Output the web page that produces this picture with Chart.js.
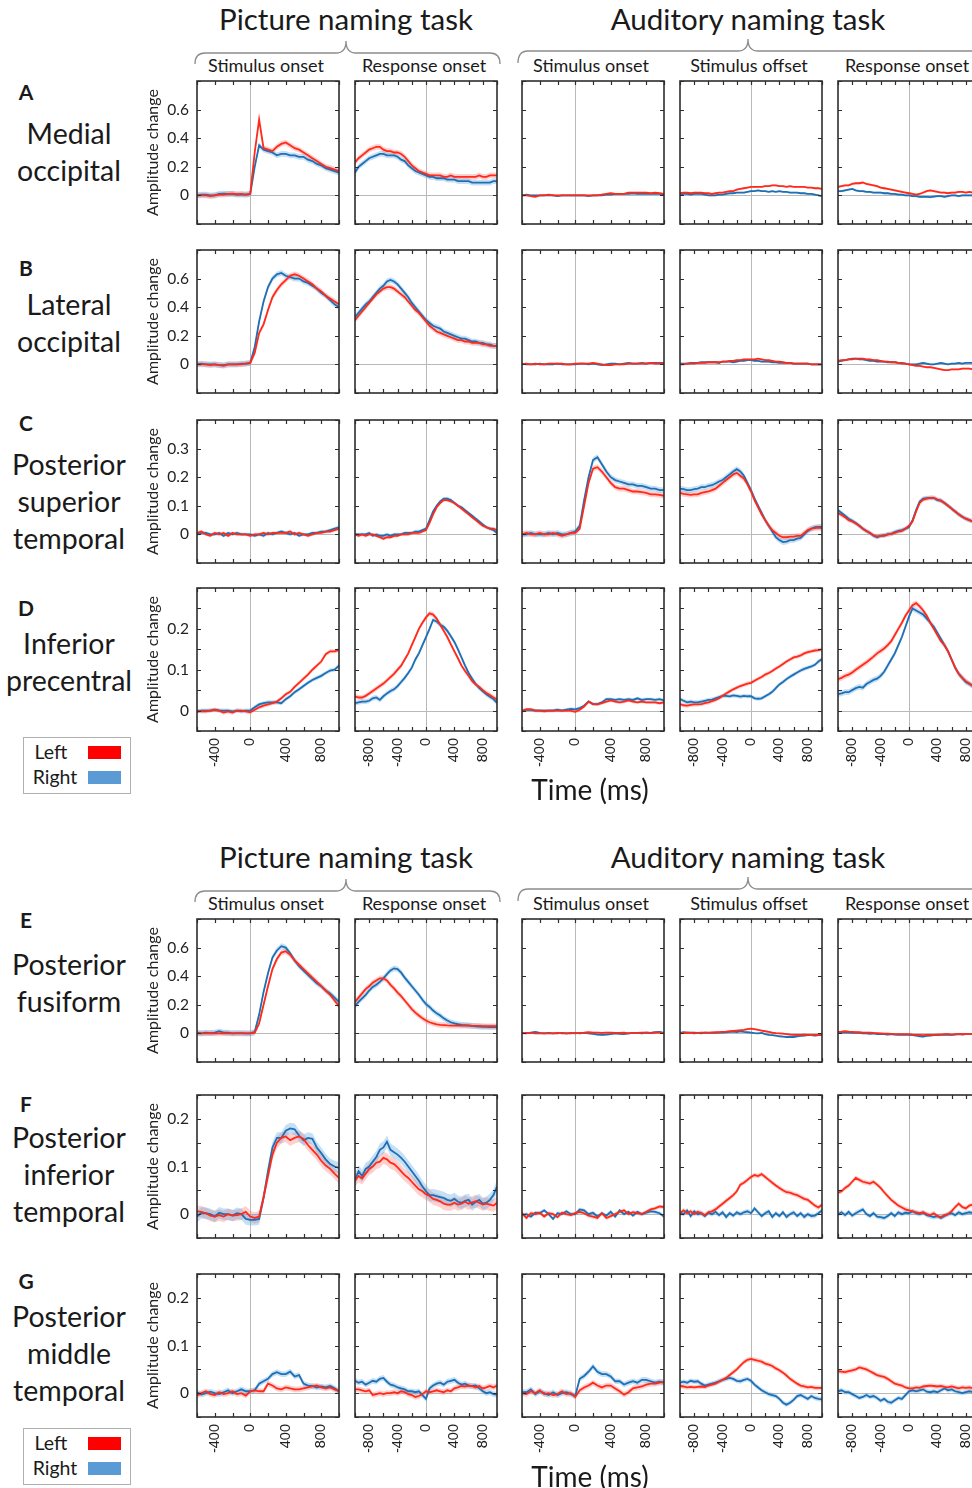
<!DOCTYPE html>
<html>
<head>
<meta charset="utf-8">
<script src="https://cdn.jsdelivr.net/npm/chart.js@4.4.0/dist/chart.umd.min.js"></script>
<style>
    html, body { margin: 0; padding: 0; background: #fff; }
    #fig { position: relative; width: 972px; height: 1488px; overflow: hidden; font-family: Lato, "Open Sans", sans-serif; color: #1a1a1a; }
    #fig canvas { position: absolute; }
    .t { position: absolute; white-space: nowrap; line-height: 1; }
    .leg { position: absolute; border: 1px solid #b0b0b0; background: #fff; }
    .sw { position: absolute; width: 33px; height: 13px; }
</style>
</head>
<body>
<div id="fig">
    <svg id="braces" width="972" height="1488" style="position:absolute;left:0;top:0"></svg>
</div>
<script>
/* ========================================
   Picture / auditory naming - amplitude change panels
   ======================================== */

// Time grids (ms)
const T_ON = [-600,-550,-500,-450,-400,-350,-300,-250,-200,-150,-100,-50,0,50,100,150,200,250,300,350,400,450,500,550,600,650,700,750,800,850,900,950,1000];
const T_SYM = [-1000,-950,-900,-850,-800,-750,-700,-650,-600,-550,-500,-450,-400,-350,-300,-250,-200,-150,-100,-50,0,50,100,150,200,250,300,350,400,450,500,550,600,650,700,750,800,850,900,950,1000];

const rowLetters = ['A', 'B', 'C', 'D', 'E', 'F', 'G'];
const regionNames = [
    ['Medial', 'occipital'],
    ['Lateral', 'occipital'],
    ['Posterior', 'superior', 'temporal'],
    ['Inferior', 'precentral'],
    ['Posterior', 'fusiform'],
    ['Posterior', 'inferior', 'temporal'],
    ['Posterior', 'middle', 'temporal']
];
const taskNames = ['Picture naming task', 'Auditory naming task'];
const colTitles = ['Stimulus onset', 'Response onset', 'Stimulus onset', 'Stimulus offset', 'Response onset'];
const colWindow = ['on', 'sym', 'on', 'sym', 'sym'];

// y ranges per row
const yMin = [-0.2, -0.2, -0.1, -0.05, -0.2, -0.05, -0.05];
const yMax = [0.8, 0.8, 0.4, 0.3, 0.8, 0.25, 0.25];
const yStep = [0.2, 0.2, 0.1, 0.05, 0.2, 0.05, 0.05];
const yLabelVals = [
    [0, 0.2, 0.4, 0.6], [0, 0.2, 0.4, 0.6], [0, 0.1, 0.2, 0.3], [0, 0.1, 0.2],
    [0, 0.2, 0.4, 0.6], [0, 0.1, 0.2], [0, 0.1, 0.2]
];

// half width of the shaded error band, per panel
const bandHalf = [
    [0.02, 0.02, 0.006, 0.006, 0.008],
    [0.02, 0.02, 0.006, 0.006, 0.006],
    [0.006, 0.006, 0.01, 0.01, 0.008],
    [0.005, 0.006, 0.004, 0.005, 0.007],
    [0.02, 0.02, 0.006, 0.006, 0.006],
    [0.012, 0.013, 0.004, 0.005, 0.005],
    [0.006, 0.006, 0.006, 0.005, 0.005]
];

// ---- data: _L = left hemisphere (red), _R = right hemisphere (blue)
const A1_L = [0,0,0,-0.005,0,0.005,0.005,0.01,0.012,0.008,0.01,0.005,0.01, 0.3,0.53,0.33,0.32,0.31,0.34,0.36,0.37,0.35,0.33,0.32,0.3,0.28,0.26,0.24,0.22,0.2,0.19,0.18,0.17];
const A1_R = [0,0.005,0.005,0,0,0.01,0.012,0.01,0.01,0.005,0.005,0.005,0.01, 0.2,0.35,0.32,0.31,0.3,0.28,0.29,0.29,0.28,0.28,0.27,0.27,0.25,0.24,0.22,0.21,0.19,0.18,0.17,0.16];
const A2_L = [0.23,0.26,0.28,0.3,0.32,0.33,0.34,0.34,0.32,0.31,0.31,0.3,0.3,0.29,0.27,0.24,0.21,0.19,0.17,0.16,0.15, 0.14,0.14,0.14,0.14,0.13,0.13,0.14,0.13,0.13,0.13,0.13,0.13,0.13,0.13,0.14,0.13,0.13,0.14,0.14,0.14];
const A2_R = [0.16,0.2,0.22,0.24,0.26,0.27,0.28,0.29,0.29,0.28,0.28,0.28,0.27,0.25,0.24,0.21,0.19,0.17,0.16,0.15,0.14, 0.13,0.13,0.12,0.12,0.12,0.11,0.11,0.11,0.1,0.1,0.1,0.1,0.09,0.09,0.09,0.09,0.09,0.09,0.1,0.1];
const A3_L = [0,0,-0.005,-0.01,0,0,0.005,0,0,0,0,0,0, 0,0,0,0,0,0.005,0.01,0.015,0.01,0.01,0.01,0.02,0.02,0.02,0.02,0.02,0.015,0.02,0.015,0.01];
const A3_R = [0,0.005,0,0,0,0,0,0,-0.005,0,0,0,0, 0,0,-0.005,0,0,0,0.005,0.005,0.01,0.01,0.01,0.01,0.015,0.01,0.01,0.01,0.01,0.01,0.01,0.005];
const A4_L = [0.015,0.02,0.02,0.015,0.02,0.02,0.02,0.015,0.015,0.01,0.015,0.02,0.02,0.025,0.03,0.03,0.04,0.045,0.05,0.055,0.06, 0.06,0.06,0.06,0.065,0.065,0.07,0.07,0.065,0.065,0.06,0.065,0.06,0.06,0.06,0.06,0.055,0.055,0.05,0.05,0.045];
const A4_R = [0.005,0.01,0.01,0.005,0.01,0.01,0.01,0.005,0,0,0,0.005,0.005,0.01,0.015,0.015,0.02,0.02,0.02,0.025,0.03, 0.03,0.035,0.03,0.03,0.025,0.03,0.025,0.03,0.025,0.025,0.02,0.02,0.02,0.015,0.015,0.01,0.01,0.005,0,-0.005];
const A5_L = [0.06,0.065,0.07,0.07,0.08,0.085,0.085,0.09,0.08,0.075,0.07,0.065,0.055,0.05,0.045,0.04,0.035,0.03,0.025,0.02,0.015, 0.01,0.005,0.01,0.02,0.03,0.035,0.03,0.025,0.02,0.02,0.015,0.02,0.02,0.025,0.025,0.02,0.025,0.02,0.02,0.02];
const A5_R = [0.03,0.03,0.035,0.04,0.045,0.035,0.03,0.03,0.025,0.025,0.02,0.02,0.02,0.015,0.015,0.01,0.01,0.005,0.005,0,0, -0.005,-0.005,-0.01,-0.01,-0.01,-0.012,-0.008,-0.005,-0.005,-0.01,-0.005,0,0,-0.005,0,0,0,0,0,0];

const B1_L = [0,0,0,-0.005,0,-0.005,-0.01,0,0,0,0,0.005,0.01, 0.08,0.22,0.28,0.38,0.47,0.52,0.56,0.59,0.62,0.63,0.62,0.6,0.58,0.56,0.53,0.51,0.48,0.46,0.44,0.42];
const B1_R = [0,0.005,0,0,0,-0.005,-0.005,0,0,0,0.005,0.005,0.01, 0.12,0.3,0.44,0.54,0.6,0.63,0.64,0.62,0.61,0.6,0.6,0.58,0.57,0.55,0.53,0.5,0.48,0.45,0.42,0.4];
const B2_L = [0.31,0.34,0.37,0.4,0.43,0.46,0.49,0.51,0.53,0.54,0.54,0.53,0.51,0.49,0.47,0.44,0.41,0.38,0.36,0.33,0.3, 0.27,0.25,0.23,0.22,0.21,0.2,0.19,0.18,0.17,0.17,0.16,0.16,0.15,0.15,0.15,0.14,0.14,0.13,0.13,0.13];
const B2_R = [0.33,0.36,0.39,0.42,0.44,0.47,0.5,0.53,0.55,0.58,0.59,0.58,0.56,0.53,0.5,0.47,0.43,0.4,0.37,0.34,0.31, 0.29,0.27,0.26,0.25,0.23,0.22,0.21,0.2,0.19,0.18,0.18,0.17,0.16,0.16,0.15,0.15,0.14,0.14,0.13,0.13];
const B3_L = [0,0.005,0,0.005,0,0,0.005,0.005,0.005,0.005,0,0,0.005, 0.005,0.005,0.005,0.01,0.005,0,-0.005,-0.005,0,0,0,0.005,0.005,0.005,0.005,0.005,0.01,0.005,0.005,0.01];
const B3_R = [0.005,0,0,0,0.005,0,0,0,0.005,0,0,0,0, 0.005,0.005,0,0.005,0,-0.005,0,0.005,0.005,0,0.005,0.01,0.005,0.005,0.01,0.005,0.01,0.01,0.01,0.01];
const B4_L = [0,0,0.005,0.005,0.005,0.01,0.01,0.01,0.015,0.015,0.015,0.015,0.02,0.02,0.025,0.025,0.03,0.03,0.035,0.035,0.035, 0.035,0.04,0.035,0.03,0.03,0.025,0.02,0.02,0.015,0.01,0.01,0.005,0.005,0.005,0.005,0.005,0,0,0,0];
const B4_R = [0.005,0.005,0.005,0.01,0.01,0.01,0.015,0.015,0.015,0.015,0.015,0.01,0.02,0.02,0.02,0.015,0.02,0.025,0.025,0.03,0.03, 0.025,0.025,0.02,0.02,0.02,0.015,0.015,0.01,0.01,0.01,0.01,0.005,0.005,0.005,0.005,0.005,0,0,0,0];
const B5_L = [0.025,0.03,0.03,0.035,0.035,0.04,0.04,0.04,0.035,0.035,0.03,0.03,0.025,0.02,0.02,0.015,0.015,0.01,0.005,0.005,0, -0.005,-0.01,-0.01,-0.015,-0.02,-0.02,-0.025,-0.03,-0.035,-0.04,-0.04,-0.035,-0.035,-0.035,-0.03,-0.03,-0.03,-0.035,-0.03,-0.03];
const B5_R = [0.02,0.025,0.03,0.035,0.04,0.04,0.035,0.035,0.03,0.025,0.025,0.02,0.02,0.02,0.015,0.015,0.015,0.01,0.01,0.005,0, 0,0,0.005,0.01,0.005,0,0,0.005,0.01,0.005,0,0.005,0.005,0.01,0.005,0.01,0.01,0.01,0.005,0.005];

const C1_L = [0.005,0.01,0,-0.005,0.005,0,0.005,-0.005,0.005,0,0,0,-0.005, 0,0,0.005,0,0.005,0.005,0.005,0.005,0.01,0,0.005,0,-0.005,0,0.005,0.005,0.01,0.01,0.015,0.02];
const C1_R = [0,0.005,0.005,0,0,0.005,-0.005,0.005,0,0.005,0,0,0, -0.005,0,-0.005,0.005,0,0.005,0.01,0.005,0,0.005,-0.005,0,0,0.005,0.005,0.01,0.01,0.015,0.02,0.025];
const C2_L = [0,-0.005,0,-0.005,0,0,-0.005,-0.01,-0.015,-0.01,-0.01,-0.005,-0.005,0,0,0,0.005,0.005,0.005,0.01,0.015, 0.04,0.07,0.095,0.11,0.12,0.12,0.115,0.11,0.1,0.09,0.08,0.07,0.06,0.05,0.04,0.03,0.025,0.02,0.02,0.015];
const C2_R = [0,0,0,0,0.005,-0.005,0,-0.005,-0.005,0,-0.005,0,0,0,0.005,0.005,0.005,0.01,0.01,0.015,0.02, 0.05,0.08,0.1,0.115,0.125,0.125,0.12,0.11,0.1,0.095,0.085,0.075,0.065,0.055,0.045,0.035,0.025,0.02,0.015,0.005];
const C3_L = [0,0.005,0,0,0.005,0,0,0.005,0,-0.005,0,0.005,0.005, 0.02,0.1,0.18,0.23,0.235,0.22,0.2,0.18,0.165,0.16,0.16,0.155,0.15,0.15,0.148,0.145,0.14,0.14,0.138,0.135];
const C3_R = [0,0,0.005,0,0,0,0.005,0,0.005,0,0,0.005,0.01, 0.03,0.12,0.2,0.26,0.27,0.245,0.22,0.2,0.19,0.185,0.18,0.175,0.175,0.17,0.17,0.165,0.16,0.16,0.155,0.155];
const C4_L = [0.145,0.142,0.14,0.138,0.14,0.14,0.145,0.148,0.15,0.155,0.16,0.17,0.18,0.19,0.2,0.21,0.215,0.205,0.195,0.175,0.15, 0.12,0.095,0.07,0.05,0.03,0.015,0.005,-0.005,-0.01,-0.01,-0.008,-0.008,-0.005,-0.005,0.005,0.015,0.02,0.022,0.024,0.022];
const C4_R = [0.16,0.158,0.155,0.155,0.158,0.16,0.165,0.165,0.17,0.172,0.178,0.185,0.19,0.2,0.21,0.22,0.228,0.22,0.205,0.18,0.155, 0.125,0.1,0.075,0.05,0.03,0.01,-0.01,-0.02,-0.027,-0.025,-0.02,-0.02,-0.015,-0.012,0,0.012,0.02,0.025,0.026,0.026];
const C5_L = [0.075,0.068,0.06,0.05,0.045,0.038,0.03,0.02,0.012,0.005,-0.003,-0.007,-0.005,-0.005,0,0.002,0.005,0.01,0.012,0.02,0.03, 0.045,0.08,0.11,0.122,0.125,0.128,0.128,0.122,0.118,0.11,0.1,0.09,0.08,0.07,0.062,0.055,0.05,0.045,0.04,0.035];
const C5_R = [0.085,0.075,0.065,0.055,0.048,0.04,0.03,0.02,0.012,0.005,-0.005,-0.01,-0.005,-0.003,0,0.002,0.008,0.012,0.015,0.02,0.025, 0.05,0.085,0.115,0.125,0.127,0.127,0.127,0.12,0.118,0.11,0.1,0.09,0.08,0.07,0.062,0.055,0.05,0.045,0.04,0.035];

const D1_L = [0,-0.002,-0.002,0,0.002,0,-0.005,-0.002,-0.005,0,0,-0.002,-0.004, 0.002,0.008,0.012,0.015,0.018,0.022,0.03,0.04,0.046,0.058,0.068,0.078,0.088,0.1,0.11,0.12,0.138,0.145,0.145,0.148];
const D1_R = [-0.003,0,0,0,0.002,0,0,0,-0.002,0,-0.002,0,0, 0.008,0.015,0.018,0.02,0.02,0.02,0.018,0.028,0.035,0.045,0.052,0.06,0.068,0.075,0.08,0.085,0.092,0.098,0.1,0.11];
const D2_L = [0.035,0.032,0.032,0.036,0.042,0.048,0.054,0.06,0.066,0.074,0.082,0.09,0.1,0.11,0.125,0.14,0.16,0.18,0.2,0.215,0.228, 0.238,0.235,0.225,0.21,0.195,0.18,0.162,0.145,0.128,0.11,0.097,0.085,0.072,0.064,0.058,0.05,0.043,0.038,0.032,0.027];
const D2_R = [0.018,0.02,0.022,0.022,0.024,0.03,0.032,0.026,0.035,0.042,0.048,0.052,0.06,0.07,0.08,0.092,0.105,0.125,0.14,0.16,0.18, 0.2,0.222,0.218,0.21,0.205,0.195,0.182,0.168,0.15,0.13,0.11,0.092,0.078,0.065,0.055,0.047,0.04,0.034,0.028,0.019];
const D3_L = [0,0.003,0.003,0,0,-0.002,0,0,0,0,0,0,-0.003, 0.002,0.01,0.022,0.016,0.015,0.018,0.022,0.025,0.022,0.02,0.022,0.025,0.022,0.02,0.022,0.02,0.02,0.02,0.018,0.02];
const D3_R = [-0.002,0.002,0.002,0,0,0,0,0,0.002,0,0.002,0.004,0.003, 0.006,0.012,0.022,0.016,0.016,0.02,0.028,0.028,0.026,0.028,0.026,0.028,0.026,0.03,0.026,0.028,0.028,0.026,0.028,0.025];
const D4_L = [0.016,0.013,0.012,0.014,0.015,0.015,0.016,0.018,0.02,0.023,0.026,0.03,0.036,0.042,0.047,0.052,0.056,0.06,0.063,0.066,0.068, 0.073,0.078,0.082,0.088,0.092,0.097,0.103,0.108,0.114,0.12,0.125,0.13,0.132,0.135,0.14,0.143,0.145,0.147,0.148,0.15];
const D4_R = [0.028,0.024,0.02,0.022,0.02,0.02,0.022,0.024,0.026,0.027,0.03,0.033,0.036,0.036,0.035,0.037,0.036,0.034,0.036,0.035,0.035, 0.03,0.029,0.03,0.035,0.04,0.046,0.055,0.064,0.07,0.077,0.083,0.088,0.093,0.098,0.102,0.105,0.108,0.112,0.12,0.126];
const D5_L = [0.077,0.08,0.085,0.088,0.093,0.1,0.106,0.112,0.118,0.125,0.132,0.14,0.146,0.152,0.16,0.17,0.185,0.2,0.215,0.232,0.245, 0.258,0.263,0.255,0.245,0.232,0.215,0.2,0.185,0.17,0.16,0.145,0.125,0.105,0.09,0.08,0.072,0.066,0.06,0.055,0.05];
const D5_R = [0.04,0.042,0.045,0.045,0.05,0.055,0.058,0.056,0.065,0.07,0.075,0.078,0.085,0.095,0.11,0.125,0.14,0.16,0.18,0.205,0.23, 0.25,0.245,0.24,0.235,0.225,0.215,0.205,0.19,0.175,0.16,0.145,0.125,0.105,0.09,0.08,0.07,0.065,0.06,0.055,0.05];

const E1_L = [0,0,0,0.002,0,0,0.002,0,0,0,0,0,0, 0.005,0.07,0.2,0.33,0.45,0.52,0.565,0.575,0.55,0.51,0.48,0.45,0.42,0.39,0.36,0.33,0.3,0.27,0.23,0.19];
const E1_R = [0.005,0,0.005,0.002,0.005,0.015,0.005,0.005,0,0.002,0.002,0,0, 0.01,0.13,0.29,0.42,0.53,0.58,0.61,0.6,0.56,0.51,0.47,0.44,0.41,0.38,0.35,0.33,0.3,0.28,0.25,0.22];
const E2_L = [0.22,0.25,0.28,0.31,0.33,0.355,0.37,0.385,0.385,0.37,0.34,0.315,0.285,0.26,0.23,0.2,0.17,0.145,0.125,0.105,0.09, 0.078,0.07,0.063,0.06,0.058,0.056,0.055,0.054,0.054,0.054,0.055,0.054,0.053,0.052,0.052,0.051,0.05,0.05,0.05,0.05];
const E2_R = [0.19,0.22,0.245,0.27,0.3,0.325,0.34,0.36,0.385,0.415,0.44,0.455,0.45,0.425,0.39,0.36,0.33,0.3,0.27,0.235,0.205, 0.185,0.16,0.14,0.125,0.105,0.09,0.078,0.07,0.064,0.06,0.058,0.056,0.052,0.05,0.048,0.046,0.045,0.044,0.044,0.044];
const E3_L = [0,0.003,0.003,0,0,0,0,0,0.003,0,0,0.003,0, 0.003,0.005,0.008,0.005,0.005,0.003,0.005,0.005,0.003,0.003,0.005,0,0.003,0.003,0.005,0.005,0.003,0.005,0.005,0];
const E3_R = [0.003,0,0.005,0.01,0.003,0,0.003,0,0,0.003,0,0,0.003, 0,0.003,0,-0.003,-0.008,-0.01,-0.008,-0.005,0,-0.003,-0.005,0,0.003,0.003,0,0.005,0.003,0.008,0.01,0.003];
const E4_L = [0,0.003,0.005,0.003,0,0.003,0.005,0.005,0.005,0.005,0.008,0.008,0.01,0.012,0.015,0.018,0.02,0.022,0.025,0.03,0.033, 0.03,0.025,0.02,0.015,0.01,0.005,0.002,0,-0.002,-0.005,-0.008,-0.01,-0.01,-0.01,-0.008,-0.01,-0.012,-0.01,-0.01,-0.01];
const E4_R = [0.003,0.008,0.005,0.005,0.005,0.003,0,0.005,0.003,0.005,0.003,0.005,0.005,0.008,0.01,0.012,0.01,0.015,0.01,0.008,0.005, 0.002,0,0.003,-0.005,-0.01,-0.012,-0.015,-0.02,-0.022,-0.025,-0.025,-0.025,-0.02,-0.018,-0.015,-0.012,-0.012,-0.015,-0.012,-0.012];
const E5_L = [0.01,0.012,0.015,0.012,0.01,0.008,0.008,0.006,0.005,0.005,0.003,0.002,0,-0.002,-0.002,-0.003,-0.005,-0.005,-0.005,-0.005,-0.005, -0.008,-0.01,-0.01,-0.012,-0.01,-0.01,-0.01,-0.008,-0.008,-0.005,-0.005,-0.008,-0.005,-0.005,-0.003,-0.005,-0.005,-0.003,-0.005,-0.005];
const E5_R = [0.003,0.005,0.008,0.005,0.003,0.005,0.003,0,0,-0.003,0,-0.005,-0.003,-0.005,-0.008,-0.005,-0.008,-0.01,-0.01,-0.01,-0.01, -0.012,-0.015,-0.02,-0.022,-0.018,-0.015,-0.012,-0.012,-0.01,-0.01,-0.008,-0.01,-0.008,-0.005,-0.008,-0.005,-0.005,-0.005,-0.008,-0.005];

const F1_L = [0.006,0.005,0.002,-0.003,-0.005,-0.002,-0.005,0,-0.003,-0.002,0,0.005,-0.005, -0.008,-0.005,0.035,0.08,0.125,0.15,0.16,0.163,0.155,0.16,0.163,0.158,0.145,0.135,0.125,0.112,0.102,0.095,0.085,0.076];
const F1_R = [-0.005,0.003,0.002,0,-0.005,0.003,0,0,-0.003,0.002,0,-0.01,-0.012, -0.012,-0.01,0.035,0.09,0.14,0.16,0.16,0.175,0.18,0.178,0.165,0.155,0.16,0.158,0.14,0.128,0.115,0.105,0.1,0.097];
const F2_L = [0.07,0.08,0.075,0.085,0.095,0.1,0.108,0.11,0.118,0.115,0.108,0.105,0.098,0.09,0.082,0.076,0.068,0.06,0.052,0.048,0.042, 0.038,0.032,0.03,0.027,0.022,0.02,0.02,0.024,0.02,0.022,0.026,0.022,0.025,0.027,0.024,0.02,0.022,0.02,0.018,0.024];
const F2_R = [0.072,0.09,0.08,0.095,0.1,0.11,0.12,0.135,0.14,0.152,0.135,0.13,0.125,0.118,0.11,0.1,0.09,0.08,0.07,0.058,0.048, 0.04,0.04,0.038,0.036,0.034,0.03,0.028,0.032,0.026,0.024,0.028,0.03,0.02,0.026,0.03,0.022,0.024,0.03,0.04,0.058];
const F3_L = [0.002,-0.008,0.002,0,0.003,-0.005,0.002,0,-0.006,0.003,0,-0.002,0.002, 0.005,0.002,-0.003,-0.005,-0.008,0.002,-0.008,-0.004,0,0.005,0.008,0,0.004,0.002,0,0.005,0.01,0.012,0.016,0.015];
const F3_R = [-0.002,0,-0.005,0.003,0.002,0.008,0,-0.01,0.002,0,0.006,0,0, 0.01,0.008,0,0.003,-0.005,0.002,-0.003,0.005,-0.005,0.008,0,0.005,-0.003,0.005,0,0.003,0.006,0.005,0.002,-0.005];
const F4_L = [0.002,0.008,0.002,0.006,0,0.005,0.002,-0.002,0.004,0.006,0.01,0.016,0.022,0.028,0.034,0.04,0.048,0.062,0.066,0.072,0.078, 0.082,0.08,0.084,0.078,0.072,0.066,0.06,0.055,0.05,0.046,0.045,0.042,0.04,0.036,0.032,0.03,0.024,0.018,0.014,0.02];
const F4_R = [0.003,0,0.008,-0.004,0.006,0,0.002,-0.004,0.003,0,0.005,-0.002,0.004,-0.006,0.002,-0.003,0.004,0,0.004,0.006,0.002, 0.012,0.004,-0.004,0.002,0.006,-0.006,0.002,-0.004,0.004,-0.006,0,0.004,-0.004,0.002,-0.006,0,-0.004,-0.003,0.002,0.008];
const F5_L = [0.045,0.048,0.055,0.06,0.068,0.076,0.072,0.068,0.066,0.064,0.068,0.062,0.055,0.046,0.038,0.03,0.024,0.018,0.014,0.01,0.008, 0.006,0.004,0.002,0.004,0,-0.002,0.002,-0.004,-0.006,-0.002,0,0.006,0.015,0.022,0.015,0.012,0.018,0.02,0.016,0.018];
const F5_R = [0,0.004,-0.002,0.005,-0.003,0.002,0.006,0.01,0,-0.004,0.002,-0.005,-0.006,-0.008,-0.004,0.002,-0.004,0.004,0,0.003,0.002, 0.006,0.002,0,0.003,-0.002,-0.004,-0.006,-0.004,-0.008,-0.004,0,0.002,-0.002,0.004,0,0.002,0.004,0.002,0,0.002];

const G1_L = [-0.005,0,0.004,-0.002,-0.004,0.002,-0.002,0,0.004,-0.002,0,-0.005,0.004, 0.006,0.004,0.004,0.02,0.016,0.01,0.008,0.012,0.01,0.008,0.008,0.01,0.012,0.014,0.016,0.012,0.01,0.012,0.008,0.004];
const G1_R = [0.002,-0.003,0,0.003,0,-0.002,0.002,0.006,0,0.004,0.008,0.004,0.004, 0.006,0.02,0.025,0.03,0.04,0.044,0.04,0.04,0.045,0.035,0.038,0.02,0.016,0.015,0.012,0.014,0.012,0.015,0.01,0.004];
const G2_L = [0.008,0.008,0.006,0.004,0.006,-0.004,-0.002,0,-0.002,0,0,0.002,0,0.004,0.002,-0.002,-0.004,-0.008,-0.006,-0.002,0.004, 0.002,0.004,0.006,0.004,0.002,0.006,0.004,0.01,0.012,0.015,0.014,0.016,0.015,0.012,0.015,0.01,0.012,0.015,0.012,0.016];
const G2_R = [0.026,0.022,0.024,0.018,0.022,0.026,0.024,0.03,0.032,0.024,0.018,0.016,0.012,0.01,0.008,0.004,0.004,0.002,0.004,-0.004,-0.012, 0.01,0.016,0.02,0.022,0.018,0.024,0.026,0.028,0.022,0.018,0.02,0.016,0.015,0.016,0.01,0.004,0,0.002,-0.002,-0.003];
const G3_L = [0,-0.002,0.004,0,0.006,-0.002,0,-0.004,-0.002,0.004,-0.002,0,-0.008, 0.006,0.012,0.016,0.022,0.016,0.012,0.016,0.016,0.01,0.004,-0.003,0.002,0.01,0.012,0.014,0.018,0.02,0.02,0.022,0.023];
const G3_R = [0.002,0.002,0.008,-0.002,0.004,0,-0.004,0.002,-0.004,0,0.002,-0.002,-0.006, 0.03,0.036,0.045,0.056,0.045,0.04,0.04,0.035,0.025,0.025,0.018,0.022,0.025,0.022,0.028,0.028,0.025,0.022,0.024,0.022];
const G4_L = [0.015,0.014,0.012,0.013,0.012,0.013,0.014,0.013,0.016,0.018,0.02,0.024,0.028,0.032,0.038,0.044,0.05,0.058,0.065,0.07,0.072, 0.07,0.068,0.066,0.062,0.06,0.057,0.052,0.048,0.043,0.037,0.03,0.025,0.02,0.016,0.014,0.012,0.013,0.011,0.011,0.011];
const G4_R = [0.022,0.024,0.022,0.026,0.024,0.025,0.02,0.016,0.018,0.02,0.022,0.025,0.028,0.03,0.032,0.03,0.026,0.025,0.028,0.03,0.026, 0.018,0.012,0.006,0.002,-0.002,-0.004,-0.006,-0.012,-0.02,-0.024,-0.02,-0.014,-0.006,-0.004,-0.008,-0.012,-0.006,-0.01,-0.012,-0.013];
const G5_L = [0.046,0.045,0.044,0.046,0.048,0.05,0.054,0.052,0.05,0.046,0.042,0.038,0.036,0.034,0.03,0.025,0.02,0.018,0.016,0.012,0.01, 0.01,0.012,0.011,0.014,0.015,0.016,0.015,0.014,0.015,0.013,0.012,0.014,0.012,0.01,0.012,0.011,0.012,0.01,0.012,0.011];
const G5_R = [0.004,0.006,0.002,0.002,-0.002,-0.006,-0.01,-0.008,-0.004,-0.008,-0.006,-0.01,-0.016,-0.012,-0.018,-0.02,-0.015,-0.01,-0.012,-0.004,0.004, 0.006,0.004,0.006,0.008,0.003,0.002,0.004,0.002,0.006,0.01,0.006,0.008,0.004,0.002,0,0.002,0.004,0.002,0,0.002];

const LEFT = [
    [A1_L, A2_L, A3_L, A4_L, A5_L], [B1_L, B2_L, B3_L, B4_L, B5_L], [C1_L, C2_L, C3_L, C4_L, C5_L],
    [D1_L, D2_L, D3_L, D4_L, D5_L], [E1_L, E2_L, E3_L, E4_L, E5_L], [F1_L, F2_L, F3_L, F4_L, F5_L],
    [G1_L, G2_L, G3_L, G4_L, G5_L]
];
const RIGHT = [
    [A1_R, A2_R, A3_R, A4_R, A5_R], [B1_R, B2_R, B3_R, B4_R, B5_R], [C1_R, C2_R, C3_R, C4_R, C5_R],
    [D1_R, D2_R, D3_R, D4_R, D5_R], [E1_R, E2_R, E3_R, E4_R, E5_R], [F1_R, F2_R, F3_R, F4_R, F5_R],
    [G1_R, G2_R, G3_R, G4_R, G5_R]
];

// ---- layout
const FONT = 'Lato, "Open Sans", sans-serif';
const TICK_FONT = '"Liberation Sans", Arial, sans-serif';
const RED = '#ff2a1a', BLUE = '#1f6fb4';
const RED_BAND = 'rgba(255, 110, 100, 0.32)', BLUE_BAND = 'rgba(90, 165, 225, 0.35)';
const RED_SWATCH = '#ff0000', BLUE_SWATCH = '#5b9bd5';
const COL_X = [197, 355, 522, 680, 838];
const ROW_Y = [81, 250, 420, 588, 919, 1095, 1274];
const PW = 142, PH = 143;
const PAD_L = 60, PAD_T = 10, PAD_R = 10, PAD_B = 52;
const fig = document.getElementById('fig');

function addText(str, cx, baseline, size, extra) {
    const el = document.createElement('div');
    el.className = 't';
    el.textContent = str;
    el.style.fontSize = size + 'px';
    el.style.top = (baseline - 0.887 * size) + 'px';
    el.style.left = cx + 'px';
    el.style.transform = 'translateX(-50%)';
    if (extra) Object.assign(el.style, extra);
    fig.appendChild(el);
    return el;
}

// frame, inward ticks and zero lines
const framePlugin = {
    id: 'frame',
    beforeDatasetsDraw(chart) {
        const { ctx, chartArea: a, scales: { x, y } } = chart;
        ctx.save();
        ctx.strokeStyle = '#b9b9b9';
        ctx.lineWidth = 1;
        const y0 = Math.round(y.getPixelForValue(0)) + 0.5;
        const x0 = Math.round(x.getPixelForValue(0)) + 0.5;
        ctx.beginPath();
        ctx.moveTo(a.left, y0); ctx.lineTo(a.right, y0);
        ctx.moveTo(x0, a.top); ctx.lineTo(x0, a.bottom);
        ctx.stroke();
        ctx.restore();
    },
    afterDatasetsDraw(chart) {
        const { ctx, chartArea: a, scales: { x, y } } = chart;
        ctx.save();
        ctx.strokeStyle = '#2e2e2e';
        ctx.lineWidth = 1.2;
        ctx.beginPath();
        x.ticks.forEach(t => {
            const px = Math.round(x.getPixelForValue(t.value)) + 0.5;
            ctx.moveTo(px, a.top); ctx.lineTo(px, a.top + 4);
            ctx.moveTo(px, a.bottom); ctx.lineTo(px, a.bottom - 4);
        });
        y.ticks.forEach(t => {
            const py = Math.round(y.getPixelForValue(t.value)) + 0.5;
            ctx.moveTo(a.left, py); ctx.lineTo(a.left + 4, py);
            ctx.moveTo(a.right, py); ctx.lineTo(a.right - 4, py);
        });
        ctx.stroke();
        ctx.lineWidth = 1.6;
        ctx.strokeRect(a.left, a.top, a.right - a.left, a.bottom - a.top);
        ctx.restore();
    }
};

function pts(times, vals, shift) {
    return vals.map((v, i) => ({ x: times[i], y: v + shift }));
}

function makePanel(r, c) {
    const T = colWindow[c] === 'on' ? T_ON : T_SYM;
    const L = LEFT[r][c], R = RIGHT[r][c], h = bandHalf[r][c];
    const showY = c === 0;
    const showX = r === 3 || r === 6;

    const cv = document.createElement('canvas');
    cv.width = PW + PAD_L + PAD_R;
    cv.height = PH + PAD_T + PAD_B;
    cv.style.left = (COL_X[c] - PAD_L) + 'px';
    cv.style.top = (ROW_Y[r] - PAD_T) + 'px';
    fig.appendChild(cv);

    const lineBase = { pointRadius: 0, tension: 0, fill: false };
    new Chart(cv, {
        type: 'line',
        data: {
            datasets: [
                { ...lineBase, data: pts(T, L, h), borderWidth: 0, backgroundColor: RED_BAND, fill: '+1', order: 4 },
                { ...lineBase, data: pts(T, L, -h), borderWidth: 0, order: 4 },
                { ...lineBase, data: pts(T, R, h), borderWidth: 0, backgroundColor: BLUE_BAND, fill: '+1', order: 3 },
                { ...lineBase, data: pts(T, R, -h), borderWidth: 0, order: 3 },
                { ...lineBase, data: pts(T, R, 0), borderColor: BLUE, borderWidth: 1.8, order: 2 },
                { ...lineBase, data: pts(T, L, 0), borderColor: RED, borderWidth: 1.8, order: 1 }
            ]
        },
        options: {
            responsive: false,
            animation: false,
            devicePixelRatio: 1,
            layout: { padding: { left: 0, top: PAD_T, right: PAD_R, bottom: 0 } },
            plugins: { legend: { display: false }, tooltip: { enabled: false } },
            scales: {
                x: {
                    type: 'linear',
                    min: T[0], max: T[T.length - 1],
                    afterFit: s => { s.height = PAD_B; s.paddingLeft = 0; s.paddingRight = 0; },
                    grid: { display: false, drawTicks: false },
                    border: { display: false },
                    ticks: {
                        display: showX, stepSize: 200, autoSkip: false,
                        minRotation: 90, maxRotation: 90, padding: 7,
                        color: '#222', font: { family: TICK_FONT, size: 14.5 },
                        callback: v => (Math.round(v) % 400 === 0) ? String(Math.round(v)) : ''
                    }
                },
                y: {
                    min: yMin[r], max: yMax[r],
                    afterFit: s => { s.width = PAD_L; s.paddingTop = 0; s.paddingBottom = 0; },
                    grid: { display: false, drawTicks: false },
                    border: { display: false },
                    ticks: {
                        display: showY, stepSize: yStep[r], autoSkip: false, padding: 8,
                        color: '#222', font: { family: FONT, size: 15.5 },
                        callback: v => {
                            const k = yLabelVals[r].find(q => Math.abs(q - v) < 1e-6);
                            return k === undefined ? '' : String(k);
                        }
                    },
                    title: {
                        display: showY, text: 'Amplitude change', color: '#222',
                        font: { family: FONT, size: 16 }, padding: { top: 6, bottom: 0 }
                    }
                }
            }
        },
        plugins: [framePlugin]
    });
}

// headers for both halves
function drawHeader(dy) {
    addText(taskNames[0], 346, 30 + dy, 29.5);
    addText(taskNames[1], 748, 30 + dy, 29.5);
    colTitles.forEach((s, c) => addText(s, COL_X[c] + PW / 2 - 2, 72 + dy, 18));
    const svg = document.getElementById('braces');
    const p1 = `M195,${64 + dy} Q195,${53 + dy} 205,${53 + dy} L336,${53 + dy} Q346,${53 + dy} 346,${41 + dy} Q346,${53 + dy} 356,${53 + dy} L490,${53 + dy} Q500,${53 + dy} 500,${64 + dy}`;
    const p2 = `M518,${63 + dy} Q518,${51 + dy} 528,${51 + dy} L738,${51 + dy} Q748,${51 + dy} 748,${39 + dy} Q748,${51 + dy} 758,${51 + dy} L985,${51 + dy}`;
    [p1, p2].forEach(d => {
        const path = document.createElementNS('http://www.w3.org/2000/svg', 'path');
        path.setAttribute('d', d);
        path.setAttribute('fill', 'none');
        path.setAttribute('stroke', '#8c8c8c');
        path.setAttribute('stroke-width', '1.3');
        svg.appendChild(path);
    });
}

function drawLegend(top) {
    const box = document.createElement('div');
    box.className = 'leg';
    box.style.left = '23px'; box.style.top = top + 'px';
    box.style.width = '106px'; box.style.height = '55px';
    fig.appendChild(box);
    addText('Left', 51, top + 22, 19.5);
    addText('Right', 55, top + 47, 19.5);
    [[RED_SWATCH, 9], [BLUE_SWATCH, 34]].forEach(([col, off]) => {
        const sw = document.createElement('div');
        sw.className = 'sw';
        sw.style.background = col;
        sw.style.left = '88px'; sw.style.top = (top + off) + 'px';
        fig.appendChild(sw);
    });
}

drawHeader(0);
drawHeader(838);

// row letters and region names
const letterBase = [100, 276, 431, 616, 928, 1112, 1289];
const nameBase = [144, 315, 475, 654, 975, 1148, 1327];
rowLetters.forEach((s, r) => {
    addText(s, 26, letterBase[r], 21, { fontWeight: 'bold' });
    regionNames[r].forEach((line, i) => addText(line, 69, nameBase[r] + i * 37, 28.5));
});

for (let r = 0; r < 7; r++) {
    for (let c = 0; c < 5; c++) makePanel(r, c);
}

addText('Time (ms)', 590, 800, 28);
addText('Time (ms)', 590, 1487, 28);
drawLegend(737);
drawLegend(1428);
</script>
</body>
</html>
